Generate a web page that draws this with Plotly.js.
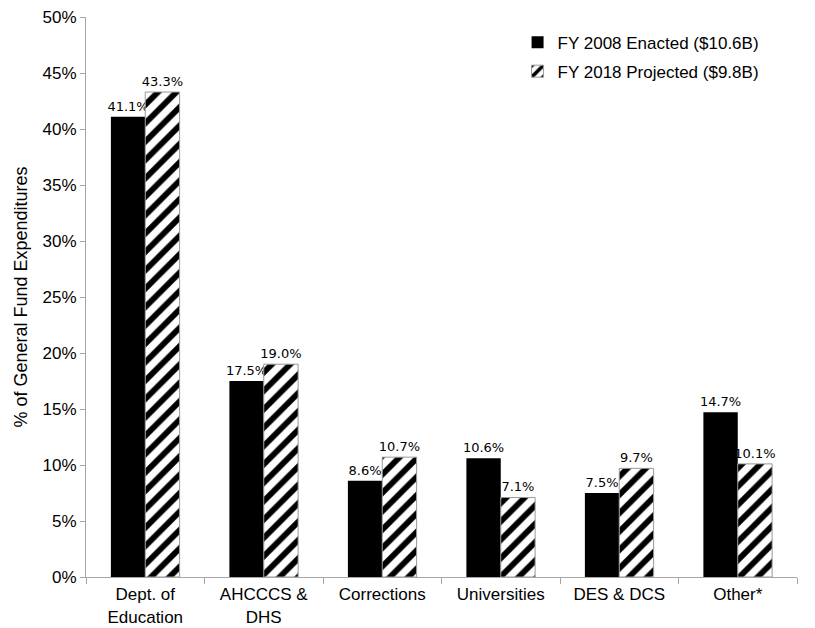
<!DOCTYPE html>
<html>
<head>
<meta charset="utf-8">
<script src="https://cdn.plot.ly/plotly-3.0.1.min.js"></script>
<style>html,body{margin:0;padding:0;background:#fff;}#chart{width:815px;height:628px;}</style>
</head>
<body>
<div id="chart"></div>
<script>
const categories = ["Dept. of<br>Education", "AHCCCS &<br>DHS", "Corrections", "Universities", "DES & DCS", "Other*"];
const fy2008 = [41.1, 17.5, 8.6, 10.6, 7.5, 14.7];
const fy2018 = [43.3, 19.0, 10.7, 7.1, 9.7, 10.1];
const seriesNames = ["FY 2008 Enacted ($10.6B)", "FY 2018 Projected ($9.8B)"];
const yTickVals = [0, 5, 10, 15, 20, 25, 30, 35, 40, 45, 50];
const yTickText = yTickVals.map(v => v + "%");

const axisFont = {family: "Liberation Sans, Arial, sans-serif", size: 17, color: "#000"};
const labelFont = {family: "DejaVu Sans", size: 13, color: "#000"};
const traces = [
  {
    type: "bar", name: seriesNames[0], x: categories, y: fy2008, legend: "legend",
    marker: {color: "#000", line: {color: "#000", width: 0}},
    text: fy2008.map(v => v.toFixed(1) + "%"), textposition: "outside",
    textfont: labelFont, cliponaxis: false, constraintext: "none"
  },
  {
    type: "bar", name: seriesNames[1], x: categories, y: fy2018, legend: "legend2",
    marker: {color: "#fff", line: {color: "#999", width: 1},
      pattern: {shape: "/", fgcolor: "#000", bgcolor: "#fff", size: 13, solidity: 0.45}},
    text: fy2018.map(v => v.toFixed(1) + "%"), textposition: "outside",
    textfont: labelFont, cliponaxis: false, constraintext: "none"
  }
];

const legendBase = {xanchor: "left", yanchor: "top", bgcolor: "rgba(0,0,0,0)",
  font: axisFont, itemwidth: 30};

const layout = {
  width: 815, height: 628,
  margin: {l: 86, r: 18, t: 17, b: 51},
  paper_bgcolor: "#fff", plot_bgcolor: "#fff",
  barmode: "group", bargap: 0.42, bargroupgap: 0,
  font: axisFont,
  showlegend: true,
  legend: Object.assign({x: 0.607, y: 0.9864}, legendBase),
  legend2: Object.assign({x: 0.607, y: 0.9346}, legendBase),
  xaxis: {
    type: "category", showline: true, linecolor: "#a6a6a6", linewidth: 1,
    ticks: "outside", tickson: "boundaries", ticklen: 6, tickcolor: "#a6a6a6",
    showgrid: false, zeroline: false, automargin: false, ticklabelstandoff: 2,
    tickfont: axisFont
  },
  yaxis: {
    range: [0, 50], tickvals: yTickVals, ticktext: yTickText,
    showline: true, linecolor: "#a6a6a6", linewidth: 1,
    ticks: "outside", ticklen: 5, tickcolor: "#a6a6a6",
    showgrid: false, zeroline: false, automargin: false,
    tickfont: axisFont,
    title: {text: "% of General Fund Expenditures", standoff: 10,
      font: {family: "Liberation Sans, Arial, sans-serif", size: 18, color: "#000"}}
  }
};

Plotly.newPlot("chart", traces, layout, {displayModeBar: false, staticPlot: true});
</script>
</body>
</html>
